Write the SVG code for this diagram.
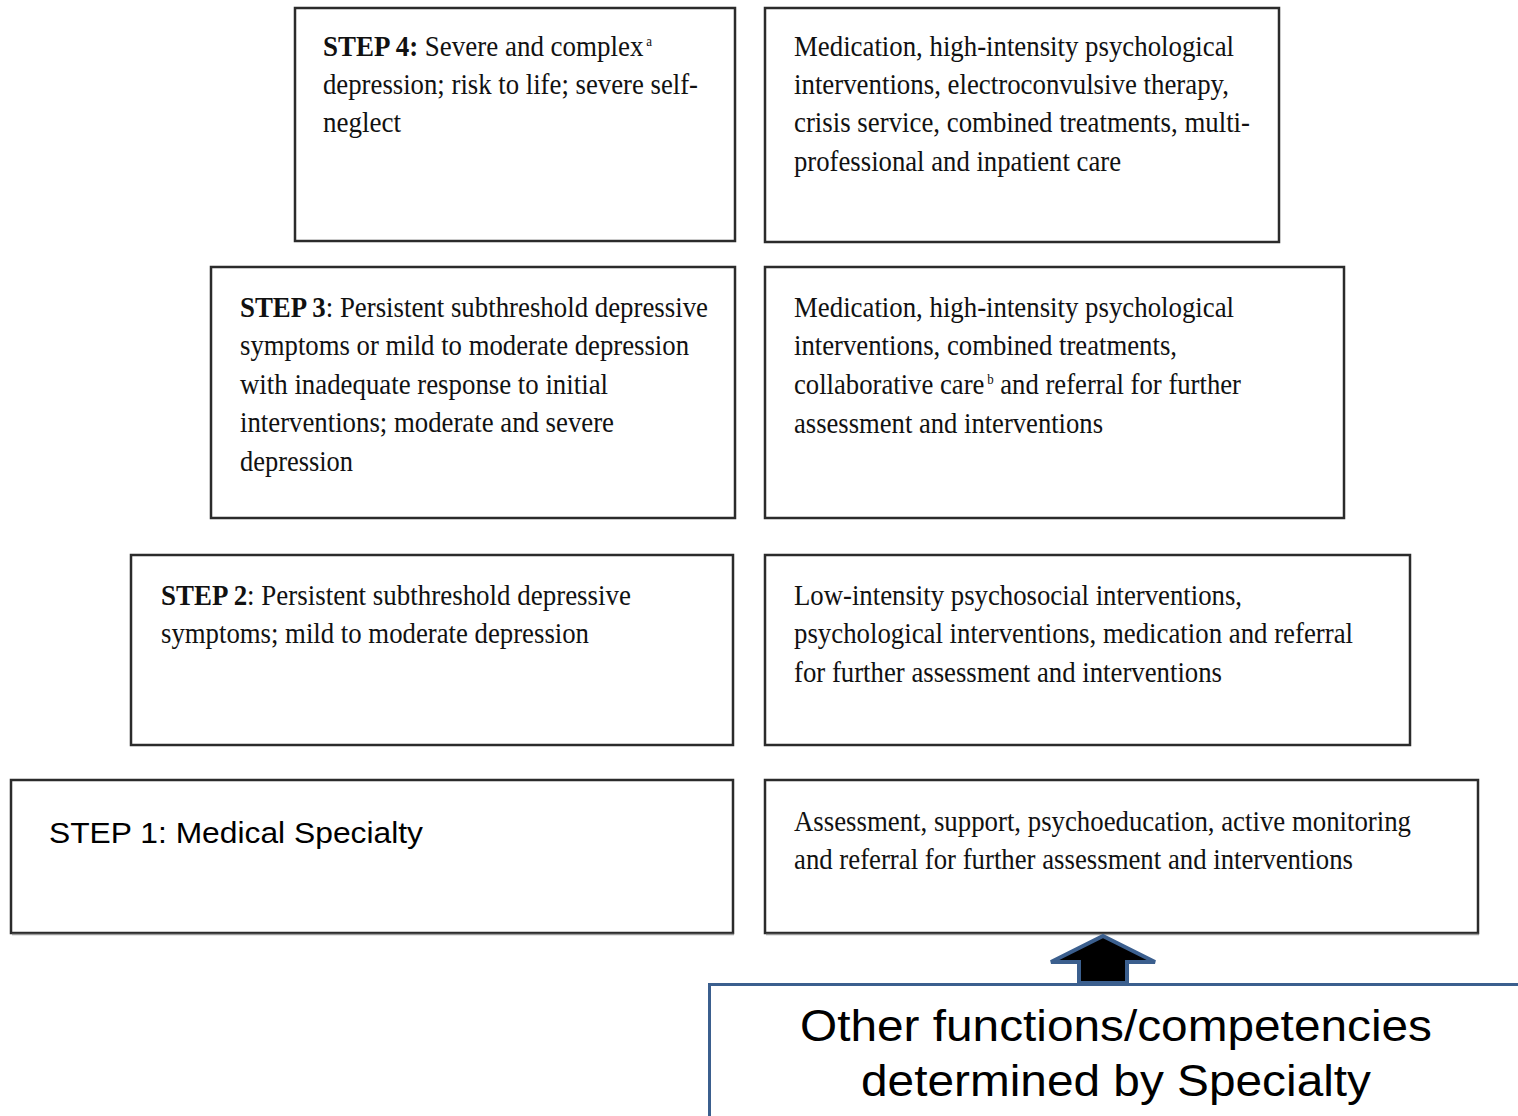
<svg xmlns="http://www.w3.org/2000/svg" width="1518" height="1116" viewBox="0 0 1518 1116">
  <style>
    .box { fill: #ffffff; stroke: #2b2b2b; stroke-width: 2.5; }
    .shadow { fill: none; stroke: #9a9a9a; stroke-width: 1.5; }
    .t { font-family: "Liberation Serif", "Times New Roman", serif; font-size: 29px; fill: #111; }
    .b { font-weight: bold; }
    .sup { font-size: 14px; baseline-shift: 70%; }
    .sans { font-family: "Liberation Sans", Arial, sans-serif; fill: #000; }
    .blue { fill: none; stroke: #3b5f8e; stroke-width: 3; }
  </style>

  <rect width="1518" height="1116" fill="#ffffff"/>

  <!-- Step 4 -->
  <g id="step4-condition">
    <rect class="box" x="295" y="8" width="440" height="233"/>
    <text class="t" x="323" y="56" textLength="329" lengthAdjust="spacingAndGlyphs"><tspan class="b">STEP 4:</tspan> Severe and complex<tspan class="sup" dx="3">a</tspan></text>
    <text class="t" x="323" y="94" textLength="375" lengthAdjust="spacingAndGlyphs">depression; risk to life; severe self-</text>
    <text class="t" x="323" y="132" textLength="78" lengthAdjust="spacingAndGlyphs">neglect</text>
  </g>
  <g id="step4-care">
    <rect class="box" x="765" y="8" width="514" height="234"/>
    <text class="t" x="794" y="56" textLength="440" lengthAdjust="spacingAndGlyphs">Medication, high-intensity psychological</text>
    <text class="t" x="794" y="94" textLength="435" lengthAdjust="spacingAndGlyphs">interventions, electroconvulsive therapy,</text>
    <text class="t" x="794" y="132" textLength="456" lengthAdjust="spacingAndGlyphs">crisis service, combined treatments, multi-</text>
    <text class="t" x="794" y="171" textLength="327" lengthAdjust="spacingAndGlyphs">professional and inpatient care</text>
  </g>

  <!-- Step 3 -->
  <g id="step3-condition">
    <rect class="box" x="211" y="267" width="524" height="251"/>
    <text class="t" x="240" y="317" textLength="468" lengthAdjust="spacingAndGlyphs"><tspan class="b">STEP 3</tspan>: Persistent subthreshold depressive</text>
    <text class="t" x="240" y="355" textLength="449" lengthAdjust="spacingAndGlyphs">symptoms or mild to moderate depression</text>
    <text class="t" x="240" y="394" textLength="368" lengthAdjust="spacingAndGlyphs">with inadequate response to initial</text>
    <text class="t" x="240" y="432" textLength="374" lengthAdjust="spacingAndGlyphs">interventions; moderate and severe</text>
    <text class="t" x="240" y="471" textLength="113" lengthAdjust="spacingAndGlyphs">depression</text>
  </g>
  <g id="step3-care">
    <rect class="box" x="765" y="267" width="579" height="251"/>
    <text class="t" x="794" y="317" textLength="440" lengthAdjust="spacingAndGlyphs">Medication, high-intensity psychological</text>
    <text class="t" x="794" y="355" textLength="383" lengthAdjust="spacingAndGlyphs">interventions, combined treatments,</text>
    <text class="t" x="794" y="394" textLength="447" lengthAdjust="spacingAndGlyphs">collaborative care<tspan class="sup" dx="3">b</tspan> and referral for further</text>
    <text class="t" x="794" y="433" textLength="309" lengthAdjust="spacingAndGlyphs">assessment and interventions</text>
  </g>

  <!-- Step 2 -->
  <g id="step2-condition">
    <rect class="box" x="131" y="555" width="602" height="190"/>
    <text class="t" x="161" y="605" textLength="470" lengthAdjust="spacingAndGlyphs"><tspan class="b">STEP 2</tspan>: Persistent subthreshold depressive</text>
    <text class="t" x="161" y="643" textLength="428" lengthAdjust="spacingAndGlyphs">symptoms; mild to moderate depression</text>
  </g>
  <g id="step2-care">
    <rect class="box" x="765" y="555" width="645" height="190"/>
    <text class="t" x="794" y="605" textLength="448" lengthAdjust="spacingAndGlyphs">Low-intensity psychosocial interventions,</text>
    <text class="t" x="794" y="643" textLength="559" lengthAdjust="spacingAndGlyphs">psychological interventions, medication and referral</text>
    <text class="t" x="794" y="682" textLength="428" lengthAdjust="spacingAndGlyphs">for further assessment and interventions</text>
  </g>

  <!-- Step 1 -->
  <g id="step1-condition">
    <rect class="box" x="11" y="780" width="722" height="153"/>
    <line class="shadow" x1="12" y1="934.5" x2="734" y2="934.5"/>
    <text class="sans" x="49" y="843" font-size="29" textLength="374" lengthAdjust="spacingAndGlyphs">STEP 1: Medical Specialty</text>
  </g>
  <g id="step1-care">
    <rect class="box" x="765" y="780" width="713" height="153"/>
    <line class="shadow" x1="766" y1="934.5" x2="1479" y2="934.5"/>
    <text class="t" x="794" y="831" textLength="617" lengthAdjust="spacingAndGlyphs">Assessment, support, psychoeducation, active monitoring</text>
    <text class="t" x="794" y="869" textLength="559" lengthAdjust="spacingAndGlyphs">and referral for further assessment and interventions</text>
  </g>

  <!-- Specialty panel -->
  <g id="specialty-panel">
    <path class="blue" d="M709.5 1116 V984.5 H1518"/>
    <text class="sans" x="1116" y="1041" font-size="45" text-anchor="middle" textLength="632" lengthAdjust="spacingAndGlyphs">Other functions/competencies</text>
    <text class="sans" x="1116" y="1096" font-size="45" text-anchor="middle" textLength="510" lengthAdjust="spacingAndGlyphs">determined by Specialty</text>
  </g>

  <!-- Connectors -->
  <g id="connectors">
    <path d="M1103 936 L1155 962 L1127 962 L1127 983 L1079 983 L1079 962 L1051 962 Z" fill="#000" stroke="#3b5f8e" stroke-width="4" stroke-linejoin="miter"/>
  </g>
</svg>
